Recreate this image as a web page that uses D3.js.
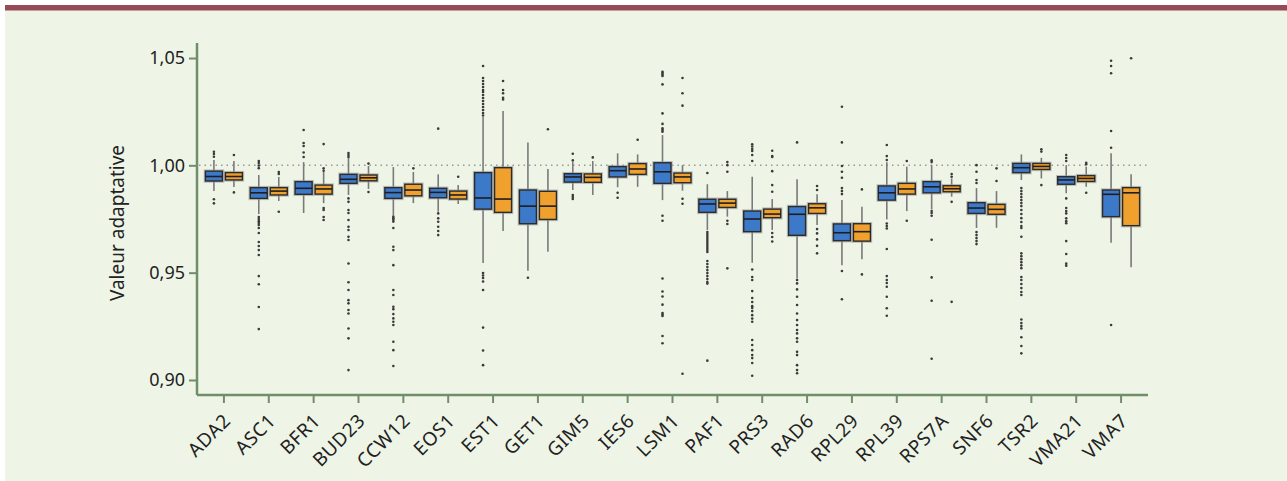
<!DOCTYPE html>
<html>
<head>
<meta charset="utf-8">
<script src="https://cdn.jsdelivr.net/npm/d3@7"></script>
<style>
  body { margin: 0; background: #fff; }
  svg { display: block; font-family: "Noto Sans", sans-serif; }
</style>
</head>
<body>
<script>
var width = 1287,
    height = 481;

var genes = ["ADA2", "ASC1", "BFR1", "BUD23", "CCW12", "EOS1", "EST1", "GET1", "GIM5", "IES6",
             "LSM1", "PAF1", "PRS3", "RAD6", "RPL29", "RPL39", "RPS7A", "SNF6", "TSR2", "VMA21", "VMA7"];

var yTicks = [0.90, 0.95, 1.00, 1.05];

// [q1, median, q3, whisker low, whisker high]
var blueStats = [
  [0.9927, 0.9948, 0.9973, 0.9880, 1.0025],
  [0.9846, 0.9872, 0.9896, 0.9773, 0.9955],
  [0.9865, 0.9893, 0.9924, 0.9778, 1.0015],
  [0.9916, 0.9935, 0.9958, 0.9862, 1.0034],
  [0.9846, 0.9873, 0.9896, 0.9768, 0.9992],
  [0.9849, 0.9874, 0.9893, 0.9784, 0.9958],
  [0.9796, 0.9848, 0.9966, 0.9545, 1.0225],
  [0.9728, 0.9810, 0.9885, 0.9509, 1.0107],
  [0.9922, 0.9946, 0.9961, 0.9885, 1.0015],
  [0.9946, 0.9975, 0.9994, 0.9898, 1.0056],
  [0.9916, 0.9970, 1.0012, 0.9838, 1.0141],
  [0.9781, 0.9820, 0.9842, 0.9699, 0.9912],
  [0.9691, 0.9750, 0.9787, 0.9546, 0.9947],
  [0.9674, 0.9772, 0.9808, 0.9473, 0.9935],
  [0.9649, 0.9686, 0.9727, 0.9535, 0.9838],
  [0.9838, 0.9872, 0.9904, 0.9748, 1.0015],
  [0.9872, 0.9900, 0.9924, 0.9795, 1.0001],
  [0.9776, 0.9801, 0.9826, 0.9708, 0.9894],
  [0.9966, 0.9989, 1.0009, 0.9932, 1.0051],
  [0.9912, 0.9932, 0.9947, 0.9870, 1.0001],
  [0.9761, 0.9865, 0.9885, 0.9639, 1.0056]
];

var orangeStats = [
  [0.9932, 0.9948, 0.9966, 0.9899, 1.0020],
  [0.9862, 0.9880, 0.9896, 0.9834, 0.9946],
  [0.9866, 0.9890, 0.9908, 0.9824, 0.9969],
  [0.9928, 0.9942, 0.9955, 0.9890, 0.9997],
  [0.9858, 0.9885, 0.9912, 0.9824, 0.9969],
  [0.9843, 0.9862, 0.9880, 0.9820, 0.9908],
  [0.9781, 0.9843, 0.9989, 0.9694, 1.0253],
  [0.9748, 0.9810, 0.9879, 0.9597, 0.9983],
  [0.9921, 0.9944, 0.9960, 0.9862, 1.0020],
  [0.9958, 0.9983, 1.0008, 0.9900, 1.0051],
  [0.9919, 0.9946, 0.9964, 0.9882, 1.0001],
  [0.9804, 0.9824, 0.9842, 0.9761, 0.9880],
  [0.9756, 0.9773, 0.9796, 0.9699, 0.9843],
  [0.9776, 0.9802, 0.9821, 0.9722, 0.9865],
  [0.9647, 0.9691, 0.9728, 0.9562, 0.9807],
  [0.9866, 0.9890, 0.9916, 0.9787, 0.9994],
  [0.9877, 0.9891, 0.9905, 0.9854, 0.9939],
  [0.9772, 0.9795, 0.9818, 0.9709, 0.9880],
  [0.9981, 0.9995, 1.0009, 0.9939, 1.0035],
  [0.9925, 0.9939, 0.9952, 0.9900, 0.9994],
  [0.9719, 0.9872, 0.9896, 0.9525, 0.9958]
];

var blueOutliers = [
  [1.0063, 1.0053, 1.0040, 0.9842, 0.9823],
  [1.0020, 1.0011, 0.9999, 0.9987, 0.9759, 0.9750, 0.9740, 0.9731, 0.9722, 0.9708, 0.9685, 0.9643, 0.9624, 0.9605, 0.9582, 0.9484, 0.9446, 0.9340, 0.9237],
  [1.0165, 1.0104, 1.0090, 1.0060, 1.0039],
  [1.0057, 1.0048, 1.0039, 0.9846, 0.9830, 0.9792, 0.9778, 0.9745, 0.9714, 0.9699, 0.9667, 0.9652, 0.9543, 0.9455, 0.9419, 0.9372, 0.9357, 0.9326, 0.9310, 0.9240, 0.9194, 0.9046],
  [0.9761, 0.9754, 0.9747, 0.9738, 0.9708, 0.9621, 0.9605, 0.9535, 0.9419, 0.9396, 0.9341, 0.9330, 0.9307, 0.9287, 0.9271, 0.9256, 0.9178, 0.9139, 0.9065],
  [1.0171, 0.9776, 0.9753, 0.9737, 0.9714, 0.9694, 0.9675],
  [1.0463, 1.0407, 1.0393, 1.0379, 1.0365, 1.0351, 1.0342, 1.0328, 1.0314, 1.0300, 1.0286, 1.0272, 1.0258, 1.0244, 1.0232, 0.9498, 0.9487, 0.9475, 0.9459, 0.9419, 0.9244, 0.9137, 0.9069],
  [0.9476],
  [1.0054, 1.0023, 0.9862, 0.9852, 0.9843],
  [0.9872, 0.9849],
  [1.0436, 1.0430, 1.0423, 1.0416, 1.0377, 1.0242, 1.0193, 1.0172, 1.0165, 1.0157, 0.9765, 0.9742, 0.9473, 0.9412, 0.9389, 0.9351, 0.9312, 0.9305, 0.9298, 0.9205, 0.9171],
  [0.9964, 0.9689, 0.9680, 0.9671, 0.9661, 0.9652, 0.9643, 0.9633, 0.9624, 0.9615, 0.9605, 0.9596, 0.9554, 0.9540, 0.9526, 0.9512, 0.9498, 0.9484, 0.9470, 0.9456, 0.9449, 0.9090],
  [1.0098, 1.0088, 1.0076, 1.0067, 1.0048, 1.0020, 0.9515, 0.9480, 0.9466, 0.9414, 0.9382, 0.9363, 0.9344, 0.9335, 0.9321, 0.9302, 0.9286, 0.9271, 0.9186, 0.9163, 0.9139, 0.9116, 0.9102, 0.9079, 0.9020],
  [1.0107, 0.9466, 0.9450, 0.9422, 0.9388, 0.9349, 0.9310, 0.9279, 0.9256, 0.9233, 0.9217, 0.9194, 0.9178, 0.9131, 0.9116, 0.9069, 0.9046, 0.9031],
  [1.0273, 1.0107, 0.9997, 0.9970, 0.9942, 0.9894, 0.9880, 0.9866, 0.9508, 0.9376],
  [1.0095, 1.0043, 1.0025, 0.9729, 0.9717, 0.9706, 0.9610, 0.9484, 0.9466, 0.9452, 0.9434, 0.9388, 0.9334, 0.9299],
  [1.0023, 1.0015, 0.9787, 0.9778, 0.9765, 0.9653, 0.9478, 0.9369, 0.9099],
  [1.0001, 0.9970, 0.9932, 0.9918, 0.9689, 0.9675, 0.9661, 0.9647, 0.9633],
  [0.9894, 0.9880, 0.9866, 0.9852, 0.9838, 0.9824, 0.9810, 0.9792, 0.9773, 0.9754, 0.9736, 0.9717, 0.9708, 0.9667, 0.9590, 0.9577, 0.9563, 0.9549, 0.9535, 0.9521, 0.9480, 0.9466, 0.9447, 0.9428, 0.9410, 0.9396, 0.9282, 0.9265, 0.9251, 0.9240, 0.9199, 0.9158, 0.9124],
  [1.0048, 1.0034, 1.0020, 0.9846, 0.9801, 0.9787, 0.9776, 0.9753, 0.9740, 0.9730, 0.9647, 0.9587, 0.9542, 0.9532],
  [1.0487, 1.0463, 1.0429, 1.0160, 1.0082, 0.9256]
];

var orangeOutliers = [
  [1.0048, 0.9874],
  [0.9969, 0.9960, 0.9784],
  [1.0099, 0.9986, 0.9975, 0.9801, 0.9792, 0.9759, 0.9745],
  [1.0008, 0.9876],
  [0.9986],
  [0.9947],
  [1.0393, 1.0351, 1.0336, 1.0315, 1.0307],
  [1.0168],
  [1.0037],
  [1.0119],
  [1.0407, 1.0336, 1.0278, 0.9844, 0.9821, 0.9029],
  [1.0015, 1.0001, 0.9970, 0.9742, 0.9727, 0.9520],
  [1.0068, 1.0043, 1.0039, 0.9973, 0.9908, 0.9877, 0.9685, 0.9666, 0.9645],
  [0.9904, 0.9885, 0.9703, 0.9683, 0.9655, 0.9625, 0.9590],
  [0.9888, 0.9492],
  [1.0020, 0.9742],
  [0.9960, 0.9947, 0.9830, 0.9364],
  [0.9986, 0.9927],
  [1.0075, 1.0064, 0.9908],
  [1.0012, 1.0005, 0.9872],
  [1.0499]
];

var axisColor = "#6f8f6a";

var svg = d3.select("body").append("svg")
    .attr("width", width)
    .attr("height", height);

// panel background and top rule
svg.append("rect").attr("x", 5).attr("y", 5).attr("width", width - 5).attr("height", height - 5)
    .attr("fill", "#eef5e7");
svg.append("rect").attr("x", 5).attr("y", 5).attr("width", width - 5).attr("height", 5.5)
    .attr("fill", "#954b57");

var x = d3.scaleBand()
    .domain(genes)
    .range([197, 1148])
    .paddingInner(0)
    .paddingOuter(0.1);

var y = d3.scaleLinear()
    .domain([0.893, 1.057])
    .range([395, 43]);

// reference line at 1.00
svg.append("line")
    .attr("x1", 199).attr("x2", 1148)
    .attr("y1", y(1)).attr("y2", y(1))
    .attr("stroke", "#9a9a9a")
    .attr("stroke-width", 1.5)
    .attr("stroke-dasharray", "1.5,4");

// axes
var yAxis = svg.append("g")
    .attr("transform", "translate(197,0)")
    .call(d3.axisLeft(y).tickValues(yTicks).tickSize(8).tickPadding(4)
      .tickFormat(function(d) { return d3.format(".2f")(d).replace(".", ","); }));

var xAxis = svg.append("g")
    .attr("transform", "translate(0,395)")
    .call(d3.axisBottom(x).tickSize(8).tickSizeOuter(0));

[yAxis, xAxis].forEach(function(a) {
    a.select(".domain").attr("stroke", axisColor).attr("stroke-width", 2.5);
    a.selectAll(".tick line").attr("stroke", axisColor).attr("stroke-width", 2);
    a.selectAll("text").attr("fill", "#222").attr("font-size", 18)
      .attr("font-family", "'Noto Sans', sans-serif");
});
yAxis.select(".domain").attr("d", "M0,43V395");
xAxis.select(".domain").attr("d", "M197,0H1148");

xAxis.selectAll(".tick text")
    .attr("text-anchor", "end")
    .attr("dy", 0)
    .attr("y", 0)
    .attr("font-size", 19)
    .attr("letter-spacing", 0.6)
    .attr("transform", "translate(8,27) rotate(-45)");

svg.append("text")
    .attr("transform", "translate(124,223) rotate(-90)")
    .attr("text-anchor", "middle")
    .attr("font-size", 19)
    .attr("fill", "#222")
    .text("Valeur adaptative");

// boxes
var series = [
  { stats: blueStats, out: blueOutliers, offset: -10, fill: "#3c79c9" },
  { stats: orangeStats, out: orangeOutliers, offset: 10, fill: "#f0a02c" }
];
var bw = 17;

series.forEach(function(s) {
    var g = svg.append("g");
    genes.forEach(function(gene, i) {
        var st = s.stats[i],
            cx = x(gene) + x.bandwidth() / 2 + s.offset;
        // whiskers
        g.append("line").attr("x1", cx).attr("x2", cx)
            .attr("y1", y(st[4])).attr("y2", y(st[0]))
            .attr("stroke", "#7a7a7a").attr("stroke-width", 1.6);
        g.append("line").attr("x1", cx).attr("x2", cx)
            .attr("y1", y(st[0])).attr("y2", y(st[3]))
            .attr("stroke", "#7a7a7a").attr("stroke-width", 1.6);
        // halo
        g.append("rect")
            .attr("x", cx - bw / 2).attr("y", y(st[2]))
            .attr("width", bw).attr("height", y(st[0]) - y(st[2]))
            .attr("fill", "none").attr("stroke", "#9a9a9a").attr("stroke-width", 3.5)
            .attr("stroke-opacity", 0.6);
        g.append("rect")
            .attr("x", cx - bw / 2).attr("y", y(st[2]))
            .attr("width", bw).attr("height", y(st[0]) - y(st[2]))
            .attr("fill", s.fill).attr("stroke", "#2b2b2b").attr("stroke-width", 1.4);
        g.append("line")
            .attr("x1", cx - bw / 2).attr("x2", cx + bw / 2)
            .attr("y1", y(st[1])).attr("y2", y(st[1]))
            .attr("stroke", "#1e1e1e").attr("stroke-width", 1.6);
        g.selectAll(null).data(s.out[i]).enter().append("circle")
            .attr("cx", cx).attr("cy", function(d) { return y(d); })
            .attr("r", 1.3).attr("fill", "#3a3a3a");
    });
});
</script>
</body>
</html>
